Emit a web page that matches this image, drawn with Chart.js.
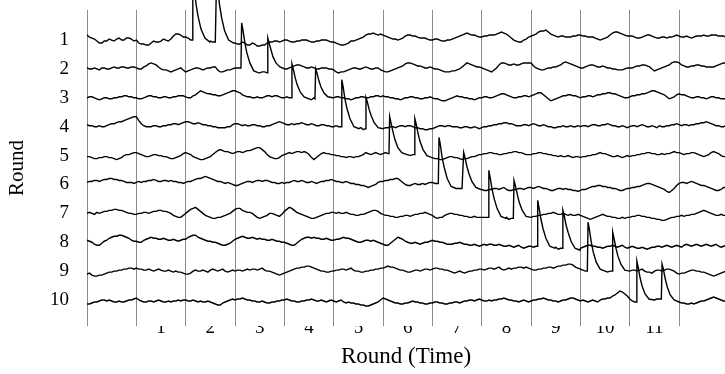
<!DOCTYPE html>
<html>
<head>
<meta charset="utf-8">
<script src="https://cdn.jsdelivr.net/npm/chart.js@4/dist/chart.umd.min.js"></script>
<style>
  html, body { margin: 0; padding: 0; background: #fff; }
</style>
</head>
<body>
<canvas id="chart-rounds" width="725" height="374"></canvas>
<script>
  /*
    ==================================================
    ====================== DATA ======================
    ==================================================
  */

  const roundLabels = ['1', '2', '3', '4', '5', '6', '7', '8', '9', '10', '11'];
  const rowLabels = ['1', '2', '3', '4', '5', '6', '7', '8', '9', '10'];

  // one sample every 0.05 round, signal in units where one row = 28.9
  const sampleStep = 0.05;
  const rowGap = 28.9;

  const trace1 = [
    5,3, 2,1, -1,-3, -3,-1, -1,1, 0,-1, 1,2, 0,0, 2,2, 1,-1,
    0,-3, -4,-4, -5,-5, -3,-1, -2,-2, -1,1, 0,-1, 1,4, 6,6, 5,3,
    3,2, 0,-2, -2,-1, -2,-3, -2,-1, -1,-2, -2,-2, -3,-2, -3,-4, -3,-2,
    -3,-4, -4,-2, -3,-5, -5,-3, -4,-6, -6,-5, -5,-3, -2,-2, -1,-1, -2,-1,
    0,0, -1,-2, -2,-1, -1,0, 0,0, -1,-2, -2,-1, -1,0, 0,0, -1,-2,
    -2,-3, -4,-5, -5,-4, -3,-1, -1,0, 1,2, 3,5, 6,6, 7,6, 5,6,
    5,4, 3,2, 1,1, 0,1, 2,4, 5,5, 4,4, 3,2, 2,2, 1,0,
    0,1, 1,0, -1,-1, 0,0, 1,2, 3,4, 5,6, 7,6, 5,5, 4,3,
    3,4, 4,5, 5,5, 6,7, 8,7, 6,4, 2,0, -1,-2, -2,0, 1,3,
    4,5, 6,8, 9,9, 10,8, 6,5, 4,3, 4,4, 3,3, 3,4, 4,5,
    5,4, 4,3, 3,3, 2,1, 0,1, 2,3, 5,7, 8,8, 7,6, 5,4,
    4,4, 3,2, 2,3, 4,5, 5,4, 3,2, 2,3, 3,2, 3,3, 4,5,
    4,3, 3,4, 3,2, 3,4, 4,4, 5,4, 4,5, 5,5, 4,4, 4,3
  ];
  const trace2 = [
    1,0, 0,1, 0,-1, 1,1, 0,0, 1,2, 1,1, 2,2, 1,1, 2,2,
    1,0, 0,2, 3,5, 6,5, 4,2, 0,-1, -1,-2, -3,-2, -1,0, 1,-1,
    -3,-2, -1,0, 1,1, 0,-1, 0,1, 1,2, 2,-1, -3,-3, -2,-1, -1,0,
    1,1, 1,0, -4,-4, -4,-4, -4,-4, -4,-3, -3,-2, 0,0, 0,0, 0,1,
    0,0, 1,2, 3,4, 4,3, 2,1, 1,2, 1,0, 0,1, 1,1, 0,0,
    -1,-3, -4,-3, -3,-2, -1,0, 1,1, 0,0, 1,2, 1,0, 0,1, 1,-1,
    -2,-3, -3,-2, -1,0, 1,2, 3,5, 6,6, 5,4, 3,3, 2,1, 1,2,
    1,0, 0,-1, -2,-3, -3,-3, -2,-2, -1,0, 2,4, 6,5, 4,3, 2,2,
    1,0, -1,-2, -3,-1, 1,4, 6,6, 5,4, 4,5, 4,4, 5,6, 6,6,
    6,3, 1,0, -1,-1, 0,1, 1,2, 2,3, 4,6, 7,6, 5,4, 3,2,
    1,1, 2,3, 4,4, 3,2, 2,3, 2,1, 1,0, 0,-1, -1,-1, 0,1,
    1,1, 2,3, 3,4, 4,3, 2,0, -2,-1, 0,1, 2,3, 4,6, 7,7,
    6,4, 3,2, 2,3, 3,4, 4,3, 3,2, 2,2, 2,3, 4,5, 6,6
  ];
  const trace3 = [
    0,1, 1,0, -1,-2, -1,0, 0,-1, -1,0, 0,1, 1,2, 2,1, 1,0,
    0,-1, -1,0, 1,2, 2,1, 1,0, 0,1, 1,0, 0,1, 1,2, 2,2,
    1,0, 0,2, 3,5, 7,6, 5,4, 4,3, 3,2, 2,3, 4,5, 6,7,
    7,6, 5,3, 2,1, 1,0, 0,1, 0,0, 1,2, 2,1, 2,2, 1,0,
    0,1, 0,-1, -1,-1, -1,-1, -1,-1, -1,-2, 0,0, 0,0, 0,0, 0,1,
    0,1, 1,0, 0,-1, -1,-2, -1,0, 0,1, 1,0, 0,1, 1,2, 2,1,
    2,1, 1,0, 0,-1, -1,-2, -1,0, 0,1, 1,0, 0,-1, -1,0, 0,1,
    0,-1, -1,-2, -3,-3, -2,-1, 0,1, 2,1, 1,0, 0,-1, -1,-2, -1,0,
    0,1, 1,0, 0,1, 2,3, 4,4, 3,2, 1,0, 0,1, 1,2, 2,1,
    2,3, 4,5, 5,3, 1,-1, -3,-2, -1,0, 1,2, 2,3, 3,2, 2,1,
    0,1, 1,2, 2,1, 2,3, 3,4, 4,5, 5,4, 4,3, 2,1, 0,0,
    1,2, 2,3, 3,4, 4,5, 6,7, 7,6, 5,4, 3,1, -1,0, 1,3,
    4,3, 3,2, 1,0, 0,1, 1,0, 0,-1, 0,1, 1,0, 0,-1, -1,-1
  ];
  const trace4 = [
    2,1, 1,0, 0,1, 0,0, 1,2, 3,3, 4,5, 5,6, 7,8, 9,10,
    10,6, 3,1, 0,0, 0,1, 1,0, 0,1, 1,2, 2,3, 3,2, 3,4,
    5,5, 4,3, 3,4, 3,2, 2,1, 1,0, 0,-1, -1,-1, -1,0, 0,2,
    3,3, 2,1, 2,1, 1,2, 2,1, 1,0, 0,1, 1,2, 3,4, 5,4,
    3,2, 2,3, 2,3, 3,4, 3,2, 2,3, 2,1, 1,2, 2,1, 1,0,
    0,1, 0,-1, -2,-2, -2,-2, -2,-2, -2,-1, -3,-2, -2,-2, -2,-2, -2,-2,
    -2,-1, -1,0, 0,-1, 0,1, 1,0, 1,1, 0,-1, -1,-2, -2,-3, -3,-2,
    -2,-1, 0,1, 1,0, 1,1, 0,0, 0,-1, -1,0, 0,-1, -1,0, -1,-2,
    -1,0, 0,1, 1,2, 2,3, 3,4, 4,3, 3,2, 1,1, 1,2, 2,1,
    2,3, 2,1, 1,2, 1,0, 0,-1, -1,0, 0,1, 0,0, 1,0, 0,1,
    0,1, 1,0, 1,2, 2,1, 1,2, 2,3, 2,1, 1,0, 0,1, 0,-1,
    0,1, 1,0, 1,2, 1,0, 0,1, 0,-1, 1,0, 0,1, 1,2, 2,3,
    2,1, 2,2, 1,2, 2,3, 3,4, 4,5, 4,3, 2,1, 1,0, 0,1
  ];
  const trace5 = [
    -1,-1, -2,-3, -3,-2, -2,-1, -1,-2, -2,-3, -4,-3, -2,0, 1,1, 2,3,
    3,2, 1,0, -1,-1, 0,1, 1,0, 0,-1, -1,-2, -3,-3, -2,-1, 0,2,
    3,2, 1,-1, -2,-3, -4,-4, -3,-2, -1,1, 3,5, 6,5, 4,4, 3,2,
    3,4, 4,3, 4,5, 5,6, 7,8, 8,6, 4,1, -1,-2, -3,-3, -2,0,
    1,2, 3,2, 3,4, 4,3, 4,3, 1,-2, -4,-2, 0,2, 3,2, 2,1,
    1,0, 0,-1, -1,-2, -1,-1, -2,-1, -1,0, 1,3, 2,1, 2,3, 2,1,
    2,3, 2,1, 1,1, 1,1, 1,1, 1,0, 1,1, -2,-2, -2,-2, -2,-2,
    -2,-3, -3,-4, -4,-3, -2,-1, -1,-2, -2,-3, -4,-3, -3,-2, -1,-1, 0,1,
    1,2, 2,3, 3,2, 2,1, 1,2, 2,3, 3,4, 4,3, 3,2, 1,1,
    1,2, 2,3, 3,2, 2,1, 1,0, 0,-1, 0,-1, -1,0, -1,-2, -1,-1,
    -2,-1, -1,0, 0,1, 1,2, 3,2, 2,1, 0,-1, -1,0, -1,-2, -1,0,
    -1,0, 0,1, 1,2, 2,3, 3,2, 2,1, 1,2, 1,2, 2,3, 4,3,
    3,2, 1,2, 2,3, 3,2, 1,0, -1,0, 1,3, 4,3, 2,0, -1,-1
  ];
  const trace6 = [
    2,3, 3,4, 4,3, 4,5, 5,6, 6,5, 5,4, 4,3, 2,2, 2,1,
    2,3, 2,3, 3,4, 4,5, 4,3, 3,4, 4,3, 4,3, 3,2, 2,1,
    2,3, 3,4, 5,6, 6,7, 8,7, 6,5, 4,3, 3,2, 1,2, 1,0,
    -1,-1, 0,1, 2,3, 3,2, 3,4, 4,3, 4,4, 3,2, 2,1, 1,2,
    1,2, 2,3, 4,3, 3,4, 3,2, 2,3, 2,1, 2,3, 3,4, 4,5,
    4,3, 3,2, 2,3, 2,1, 1,0, 0,-1, -1,-2, -3,-2, -1,0, 2,3,
    3,4, 4,5, 5,6, 6,4, 2,0, -1,-1, 0,1, 0,0, 1,0, 1,2,
    2,1, 1,-4, -4,-4, -4,-4, -4,-4, -4,-4, -4,-4, -3,-5, -4,-5, -5,-5,
    -5,-6, -6,-5, -5,-4, -4,-5, -4,-3, -5,-6, -6,-5, -5,-4, -4,-5, -4,-3,
    -3,-4, -3,-2, -3,-4, -4,-5, -6,-6, -5,-4, -4,-5, -4,-5, -5,-6, -6,-7,
    -6,-5, -5,-4, -3,-2, -2,-1, -1,-2, -2,-3, -3,-4, -4,-5, -6,-6, -5,-4,
    -4,-3, -3,-2, -2,-1, 0,1, 1,0, -1,-2, -3,-4, -5,-7, -8,-6, -4,-1,
    1,2, 2,1, 2,3, 2,1, 0,-1, -1,-2, -3,-4, -5,-6, -6,-5, -3,-3
  ];
  const trace7 = [
    0,1, 0,-1, 1,0, 1,2, 2,3, 3,4, 4,3, 3,2, 1,0, 0,-1,
    -1,0, 0,1, 1,0, 1,2, 2,3, 3,2, 2,1, 0,-2, -3,-4, -4,-2,
    0,2, 4,5, 6,4, 2,0, -2,-3, -4,-5, -5,-4, -4,-3, -2,-1, 0,2,
    4,5, 5,3, 2,1, 1,0, -2,-4, -5,-4, -3,-2, 0,0, -1,-2, -3,-1,
    2,4, 6,5, 3,1, 0,-1, -2,-3, -4,-5, -5,-4, -3,-2, -1,0, 0,1,
    1,0, 1,0, 0,1, 0,-1, -1,-2, -2,-1, -1,0, 1,2, 3,3, 2,0,
    -1,-2, -2,-3, -3,-4, -4,-3, -3,-2, -2,-3, -2,-1, -1,0, 0,1, 0,-1,
    -2,-4, -5,-4, -4,-2, -1,0, 0,-1, -1,-2, -2,-3, -3,-4, -4,-3, -4,-4,
    -4,-4, -4,-5, -5,-5, -5,-5, -5,-5, -4,-6, -5,-5, -4,-4, -4,-4, -4,-4,
    -4,-3, -3,-2, -2,-1, -1,0, 0,1, 0,-1, -1,0, -1,-2, -1,-2, -2,-1,
    -2,-3, -4,-5, -6,-5, -4,-3, -2,-1, -2,-3, -3,-4, -4,-5, -5,-4, -5,-4,
    -4,-3, -3,-2, -2,-3, -3,-4, -4,-5, -5,-6, -6,-7, -7,-6, -5,-4, -4,-3,
    -3,-2, -3,-2, -2,-1, -1,0, 1,2, 3,2, 1,0, -1,-2, -2,-1, -2,-2
  ];
  const trace8 = [
    2,1, 0,-2, -3,-3, -1,1, 2,4, 5,6, 6,7, 7,6, 5,4, 2,1,
    1,0, 0,2, 3,4, 5,4, 4,3, 3,4, 3,2, 2,3, 2,1, 2,3,
    3,5, 6,7, 7,5, 4,3, 2,1, 1,0, 0,-1, -2,-3, -3,-2, -1,1,
    3,4, 5,6, 5,4, 4,5, 4,3, 4,3, 3,2, 2,3, 2,1, 1,0,
    0,-1, -2,-3, -3,-1, 1,3, 4,5, 5,4, 5,4, 4,3, 3,4, 3,2,
    2,3, 3,4, 5,4, 4,3, 2,1, 0,0, 1,2, 2,1, 2,1, 0,-1,
    -2,-3, -3,-1, 1,3, 5,4, 3,1, 0,-1, -1,0, -1,-2, -1,0, 0,1,
    2,1, 1,0, 0,-1, -2,-2, -2,-1, -1,0, -1,-2, -2,-3, -3,-2, -3,-4,
    -3,-2, -3,-2, -2,-3, -3,-2, -3,-4, -4,-3, -4,-5, -4,-3, -5,-6, -5,-4,
    -4,-5, -4,-6, -6,-6, -6,-6, -6,-6, -5,-7, -6,-7, -8,-8, -8,-8, -8,-7,
    -6,-5, -4,-3, -3,-4, -4,-5, -5,-6, -5,-4, -4,-3, -4,-5, -4,-3, -5,-6,
    -5,-4, -5,-6, -6,-5, -6,-7, -6,-5, -5,-4, -4,-5, -4,-3, -4,-5, -4,-3,
    -4,-5, -3,-2, -3,-4, -3,-2, -3,-4, -3,-2, -3,-4, -3,-2, -4,-5, -4,-3
  ];
  const trace9 = [
    -3,-2, -4,-5, -5,-4, -4,-3, -2,-1, -1,0, 0,1, 1,2, 2,3, 3,2,
    3,2, 2,1, 1,2, 1,0, 1,2, 1,0, 0,1, 0,-1, 0,-1, -1,-2,
    -3,-3, -2,0, 1,0, 0,1, 0,-1, 1,2, 1,0, 1,2, 0,-1, 0,1,
    0,1, 1,0, 1,2, 1,2, 2,1, 2,3, 1,0, 0,-1, -2,-3, -4,-3,
    -2,-1, 0,1, 2,3, 3,4, 4,5, 5,4, 3,2, 1,0, 0,-1, -1,0,
    0,1, 1,2, 2,1, 2,3, 1,0, 0,-1, -1,0, 0,1, 1,2, 2,3,
    3,4, 5,4, 4,3, 2,1, 1,0, -1,-1, 0,1, 1,0, 1,2, 2,1,
    2,3, 3,2, 2,1, 1,0, -1,-2, -1,0, -1,-2, -1,0, 0,1, 1,2,
    2,1, 2,3, 3,2, 3,4, 2,1, 2,3, 2,3, 3,4, 4,3, 4,3,
    2,1, 1,2, 2,3, 3,4, 4,3, 4,5, 5,6, 6,7, 7,6, 4,3,
    2,1, 0,0, 0,0, 0,0, 0,0, 1,-1, 0,-1, 0,0, 0,0, 0,0,
    0,1, 1,0, 1,2, 0,-1, -1,-2, 0,1, 1,0, 1,2, 2,1, 0,-2,
    -3,-2, -2,-1, 0,1, 1,0, 0,-1, -1,-2, -3,-4, -5,-4, -3,-2, -1,0
  ];
  const trace10 = [
    -4,-4, -3,-2, -2,-1, 0,0, -1,0, -1,-2, -2,-1, -2,-2, -1,0, 0,1,
    2,0, -1,-2, -2,-1, -1,-2, -1,0, -1,-2, -2,-1, -2,-1, -1,0, -1,0,
    0,-1, -1,0, -1,-2, -1,-2, -2,-1, -2,-3, -4,-5, -5,-3, -2,-1, 0,1,
    0,1, 1,2, 1,0, 0,-1, -1,-2, -2,-1, -2,-3, -3,-2, -2,-1, -1,0,
    0,1, 0,-1, -1,-2, -2,-1, -1,0, 0,1, 0,-1, -1,0, -1,-2, -1,0,
    -1,-2, -1,0, -2,-3, -2,-3, -3,-4, -4,-5, -5,-6, -6,-5, -4,-3, -2,0,
    2,1, 0,-1, -2,-3, -3,-4, -4,-3, -3,-2, -1,-2, -2,-3, -3,-4, -4,-3,
    -3,-2, -2,-3, -3,-4, -4,-3, -3,-2, -2,-3, -2,-1, -1,0, 0,-1, 0,1,
    0,-1, -1,0, -1,0, 0,1, 1,2, 1,0, 0,-1, -1,-2, -1,0, -1,-2,
    -1,0, 0,1, 1,2, 1,0, 0,-1, -1,-2, -1,0, 0,1, 2,2, 1,0,
    -1,0, -1,-2, -1,0, -1,-2, 0,1, 1,2, 2,4, 5,7, 9,8, 6,4,
    1,-1, -2,-1, 0,0, 0,0, 0,0, 0,1, 1,0, -2,-2, -2,-2, -2,-2,
    -2,-3, -3,-4, -4,-3, -4,-3, -2,-1, -1,0, 1,2, 3,2, 1,0, -1,-1
  ];

  // spikes: [onset round, then signal at onset + spikeDt[j]]
  const spikeDt = [0, 0.014, 0.04, 0.08, 0.12, 0.18, 0.26, 0.36];
  const spikes1 = [[2.13, 0, 62, 53, 36, 24, 11, 2, -2], [2.61, -2, 58, 50, 34, 22, 9, 0, -3]];
  const spikes2 = [[3.12, 1, 46, 39, 26, 16, 6, -2, -4], [3.65, -4, 31, 26, 19, 12, 6, 2, 0]];
  const spikes3 = [[4.14, 0, 34, 29, 20, 13, 6, 1, -1], [4.62, -1, 29, 25, 17, 11, 5, 1, 0]];
  const spikes4 = [[5.15, 0, 47, 40, 27, 18, 8, 0, -2], [5.64, -2, 29, 25, 17, 11, 4, -1, -2]];
  const spikes5 = [[6.12, 2, 39, 33, 24, 16, 8, 3, 1], [6.63, 1, 37, 32, 22, 14, 6, 0, -2]];
  const spikes6 = [[7.12, 1, 47, 40, 26, 17, 6, -2, -4], [7.62, -4, 32, 27, 18, 11, 3, -3, -5]];
  const spikes7 = [[8.13, -4, 43, 36, 24, 15, 5, -3, -5], [8.64, -5, 33, 28, 19, 11, 3, -3, -4]];
  const spikes8 = [[9.12, -4, 42, 35, 23, 14, 4, -4, -6], [9.63, -6, 32, 27, 17, 10, 1, -6, -8]];
  const spikes9 = [[10.14, 0, 49, 42, 29, 19, 9, 2, 0], [10.64, 0, 39, 33, 23, 15, 7, 1, 0]];
  const spikes10 = [[11.13, -2, 39, 33, 22, 14, 6, 1, 0], [11.64, 1, 36, 31, 21, 13, 5, 0, -2]];

  const traces = [trace1, trace2, trace3, trace4, trace5, trace6, trace7, trace8, trace9, trace10];
  const spikes = [spikes1, spikes2, spikes3, spikes4, spikes5, spikes6, spikes7, spikes8, spikes9, spikes10];

  /*
    ==================================================
    ===================== CHART ======================
    ==================================================
  */

  function buildPoints(trace, rowSpikes, row) {
    let pts = trace.map((v, i) => ({ x: i * sampleStep, v }));
    rowSpikes.forEach(([t0, ...vals]) => {
      let end = t0 + spikeDt[spikeDt.length - 1];
      pts = pts.filter(p => p.x < t0 - 1e-6 || p.x > end + 1e-6);
      vals.forEach((v, j) => pts.push({ x: t0 + spikeDt[j], v }));
    });
    pts.sort((a, b) => a.x - b.x);
    return pts.map(p => ({ x: p.x, y: row - p.v / rowGap }));
  }

  let datasets = traces.map((trace, i) => ({
    label: rowLabels[i],
    data: buildPoints(trace, spikes[i], i + 1),
    borderColor: '#000',
    borderWidth: 1.4,
    pointRadius: 0,
    tension: 0,
    clip: false
  }));

  const serif = 'Liberation Serif, Times New Roman, serif';

  /** @type {HTMLCanvasElement} */
  let ctx = document.getElementById('chart-rounds').getContext('2d');

  let chartRounds = new Chart(ctx, {
    type: 'line',
    data: { datasets },
    options: {
      responsive: false,
      animation: false,
      layout: { padding: { top: 10, right: 0, bottom: 0, left: 0 } },
      plugins: { legend: { display: false }, tooltip: { enabled: false } },
      scales: {
        x: {
          type: 'linear',
          min: 0,
          max: 12.93,
          afterBuildTicks: scale => {
            let ticks = [];
            for (let i = 0; i <= 12; i++) ticks.push({ value: i });
            roundLabels.forEach((_, j) => ticks.push({ value: j + 1.5 }));
            scale.ticks = ticks.sort((a, b) => a.value - b.value);
          },
          afterFit: scale => {
            scale.height = 48;
            scale.paddingLeft = 0;
            scale.paddingRight = 0;
          },
          grid: {
            drawTicks: false,
            lineWidth: 1,
            color: c => Number.isInteger(c.tick?.value) ? '#8a8a8a' : 'rgba(0,0,0,0)'
          },
          border: { display: false },
          ticks: {
            autoSkip: false,
            maxRotation: 0,
            minRotation: 0,
            padding: -9,
            color: '#000',
            font: { family: serif, size: 19 },
            callback: value => Number.isInteger(value) ? '' : roundLabels[Math.floor(value) - 1]
          },
          title: {
            display: true,
            text: 'Round (Time)',
            color: '#000',
            font: { family: serif, size: 23 },
            padding: { top: 0, bottom: 3 }
          }
        },
        y: {
          type: 'linear',
          reverse: true,
          min: -0.04,
          max: 10.9,
          afterBuildTicks: scale => {
            scale.ticks = rowLabels.map((_, i) => ({ value: i + 1 }));
          },
          afterFit: scale => {
            scale.width = 87;
            scale.paddingTop = 0;
            scale.paddingBottom = 0;
          },
          grid: { display: false, drawTicks: false },
          border: { display: false },
          ticks: {
            padding: 18,
            color: '#000',
            font: { family: serif, size: 19 },
            callback: value => rowLabels[value - 1]
          },
          title: {
            display: true,
            text: 'Round',
            color: '#000',
            font: { family: serif, size: 21 },
            padding: { top: 5, bottom: 0 }
          }
        }
      }
    }
  });
</script>
</body>
</html>
